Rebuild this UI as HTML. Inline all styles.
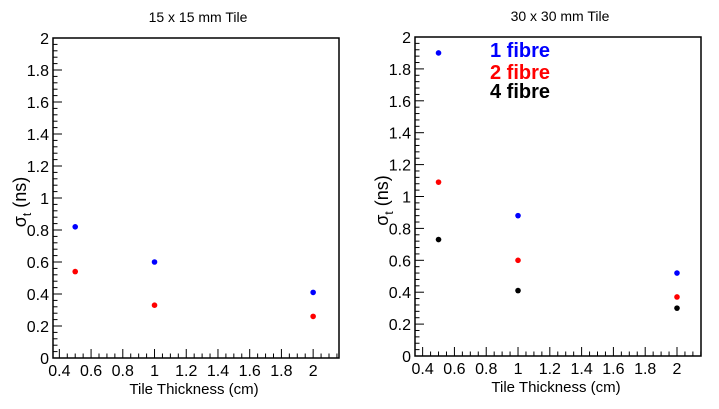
<!DOCTYPE html>
<html><head><meta charset="utf-8"><style>
body{margin:0;background:#fff;width:719px;height:404px;overflow:hidden}
svg text{font-family:"Liberation Sans",sans-serif}
</style></head><body>
<svg id="c" width="719" height="404"></svg>
<script>
const yTicks=[0,0.2,0.4,0.6,0.8,1,1.2,1.4,1.6,1.8,2];
const xTicks=[0.4,0.6,0.8,1,1.2,1.4,1.6,1.8,2];
const thickness=[0.5,1,2];
const left1fibre=[0.82,0.60,0.41];
const left2fibre=[0.54,0.33,0.26];
const right1fibre=[1.90,0.88,0.52];
const right2fibre=[1.09,0.60,0.37];
const right4fibre=[0.73,0.41,0.30];
const NS='http://www.w3.org/2000/svg';
const svg=document.getElementById('c');
function mk(t,a,p){const e=document.createElementNS(NS,t);for(const k in a)e.setAttribute(k,a[k]);(p||svg).appendChild(e);return e;}
function panel(name,L,R,T,B,xmin,xmax,title,series){
  const g=mk('g',{});
  
  
  const X=v=>L+(v-xmin)/(xmax-xmin)*(R-L);
  const Y=v=>B-v/2*(B-T);
  const fr=mk('rect',{x:L,y:T,width:R-L,height:B-T,fill:'none',stroke:'#000','stroke-width':1.5},g);
  
  
  for(let i=0;i<=50;i++){const v=i*0.04;const y=Y(v);const maj=i%5==0;
    mk('line',{x1:L,x2:L+(maj?9:4.5),y1:y,y2:y,stroke:'#000'},g);}
  yTicks.forEach(v=>{const t=mk('text',{x:L-4,y:Y(v)+6,'text-anchor':'end','font-size':16},g);t.textContent=String(v);
    });
  for(let v=0.4;v<=xmax+1e-9;v+=0.05){const x=X(v);const maj=Math.abs(v*5-Math.round(v*5))<1e-6;
    mk('line',{x1:x,x2:x,y1:B,y2:B-(maj?9:4.5),stroke:'#000'},g);}
  xTicks.forEach(v=>{const t=mk('text',{x:X(v),y:B+18,'text-anchor':'middle','font-size':16},g);t.textContent=String(v);
    });
  const xt=mk('text',{x:(L+R)/2-2,y:B+36,'text-anchor':'middle','font-size':15},g);xt.textContent='Tile Thickness (cm)';
  
  const yt=mk('text',{transform:`translate(${L-27},${(T+B)/2+4}) rotate(-90)`,'text-anchor':'middle','font-size':18},g);
  yt.innerHTML='σ<tspan font-size="12" dy="5">t</tspan><tspan dy="-5"> (ns)</tspan>';
  
  const tt=mk('text',{x:(L+R)/2+2,y:T-16,'text-anchor':'middle','font-size':14},g);tt.textContent=title;
  
  series.forEach(s=>{s.vals.forEach((v,i)=>{const c=mk('circle',{cx:X(thickness[i]),cy:Y(v),r:2.8,fill:s.color},g);
    });});
}
panel('left-panel',53,339,38,358,0.36,2.163,'15 x 15 mm Tile',[{name:'1-fibre',color:'#0000ff',vals:left1fibre},{name:'2-fibre',color:'#ff0000',vals:left2fibre}]);
panel('right-panel',415,701,37,356,0.352,2.151,'30 x 30 mm Tile',[{name:'1-fibre',color:'#0000ff',vals:right1fibre},{name:'2-fibre',color:'#ff0000',vals:right2fibre},{name:'4-fibre',color:'#000000',vals:right4fibre}]);
[['1 fibre','#0000ff',57],['2 fibre','#ff0000',79],['4 fibre','#000',98]].forEach(l=>{
  const t=mk('text',{x:490,y:l[2],'font-size':20,'font-weight':'bold',fill:l[1]});t.textContent=l[0];
  });
</script>
</body></html>
